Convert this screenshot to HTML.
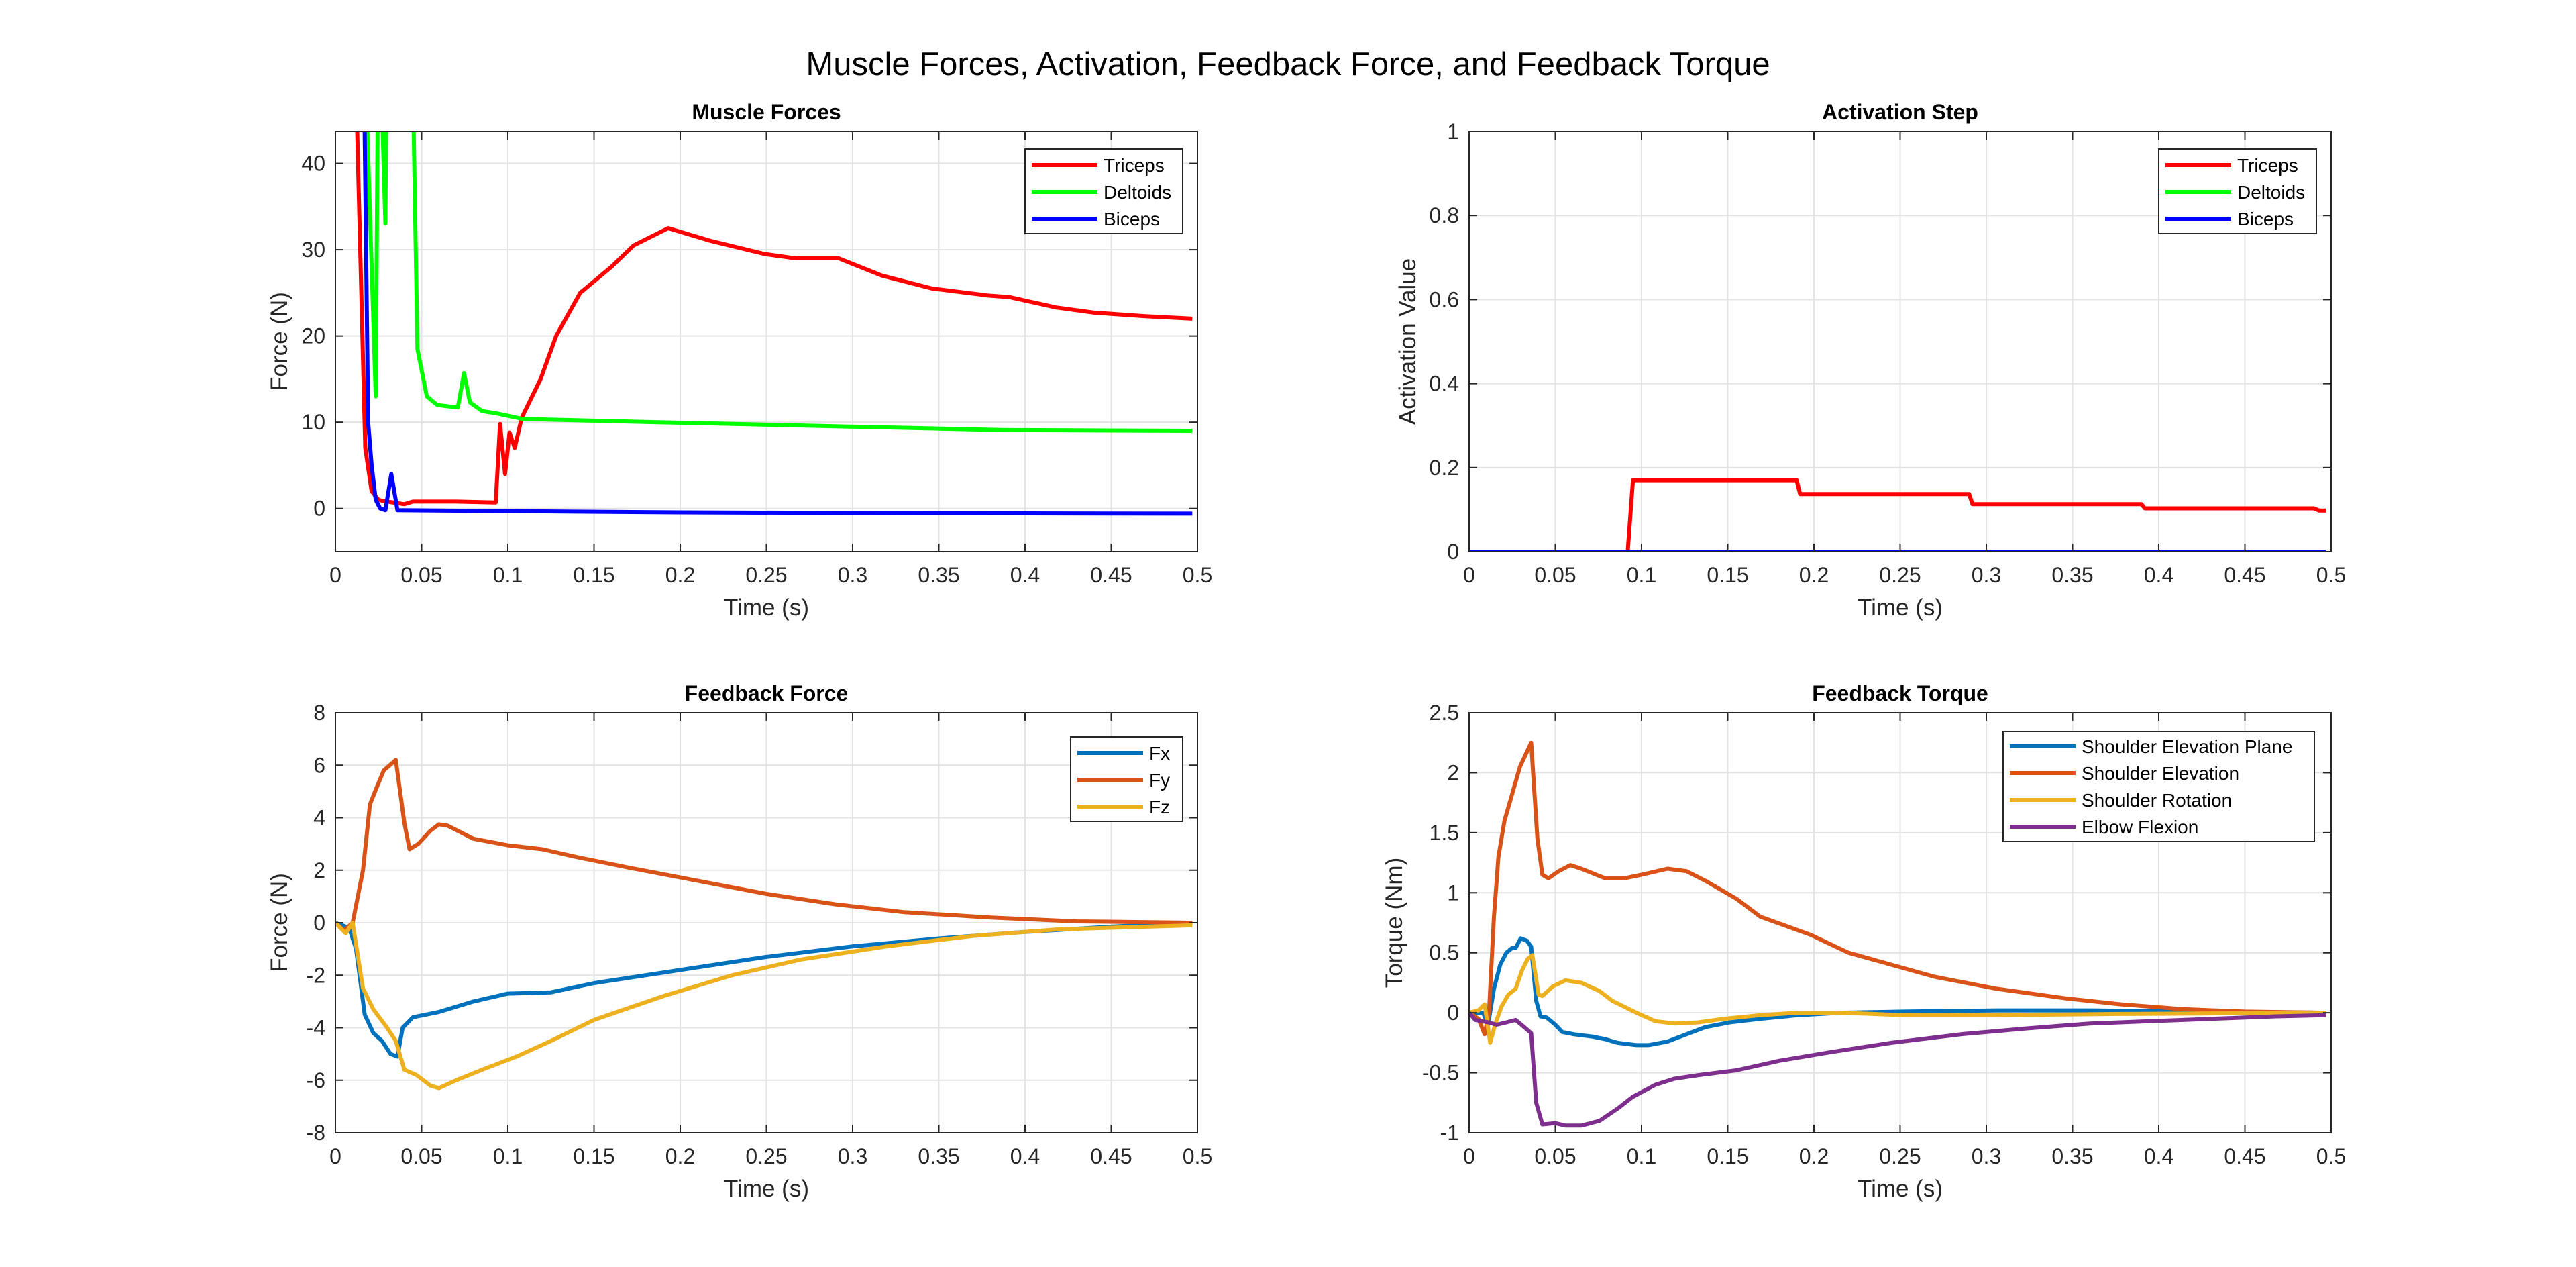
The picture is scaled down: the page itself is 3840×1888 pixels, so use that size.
<!DOCTYPE html>
<html><head><meta charset="utf-8">
<style>
html,body{margin:0;padding:0;background:#fff;}
svg{display:block;font-family:"Liberation Sans",Arial,sans-serif;}
</style></head>
<body>
<svg id="fig" width="3840" height="1888" viewBox="0 0 3840 1888" xmlns="http://www.w3.org/2000/svg">
<rect width="3840" height="1888" fill="#fff"/>
<text x="1920" y="112" font-size="49" text-anchor="middle" fill="#000">Muscle Forces, Activation, Feedback Force, and Feedback Torque</text>
</svg>
<script>
// ---- Muscle Forces data ----
const mfTricepsT = [0.0126,0.0173,0.021,0.025,0.03,0.04,0.045,0.07,0.093,0.0955,0.0984,0.101,0.104,0.108,0.119,0.128,0.142,0.16,0.173,0.193,0.218,0.249,0.267,0.292,0.317,0.346,0.378,0.391,0.418,0.44,0.469,0.497];
const mfTricepsV = [44,7,2,1,0.8,0.5,0.8,0.8,0.7,9.8,4,8.8,7,10.5,15,20,25,28,30.5,32.5,31,29.5,29,29,27,25.5,24.7,24.5,23.3,22.7,22.3,22];
const mfDeltoidsT = [0.016,0.0234,0.025,0.029,0.030,0.044,0.0476,0.053,0.059,0.071,0.0746,0.078,0.085,0.094,0.108,0.123,0.187,0.296,0.386,0.497];
const mfDeltoidsV = [60,13,60,33,60,60,18.5,13,12,11.7,15.7,12.3,11.3,11,10.4,10.3,10,9.5,9.1,9];
const mfBicepsT = [0.016,0.019,0.021,0.0234,0.026,0.029,0.0324,0.036,0.1,0.2,0.35,0.497];
const mfBicepsV = [60,10,5,1,0,-0.2,4,-0.2,-0.3,-0.45,-0.55,-0.6];
// ---- Activation data ----
const actTricepsT = [0,0.092,0.095,0.190,0.192,0.290,0.292,0.390,0.392,0.490,0.493,0.497];
const actTricepsV = [0,0,0.17,0.17,0.137,0.137,0.113,0.113,0.103,0.103,0.098,0.098];
const actDeltoidsT = [0,0.497];
const actDeltoidsV = [0,0];
const actBicepsT = [0,0.497];
const actBicepsV = [0,0];
// ---- Feedback Force data ----
const ffFxT = [0,0.008,0.012,0.017,0.022,0.027,0.032,0.036,0.039,0.045,0.06,0.08,0.1,0.125,0.15,0.2,0.25,0.3,0.35,0.4,0.45,0.497];
const ffFxV = [0,-0.2,-1,-3.5,-4.2,-4.5,-5,-5.1,-4,-3.6,-3.4,-3,-2.7,-2.65,-2.3,-1.8,-1.3,-0.9,-0.6,-0.35,-0.15,0];
const ffFyT = [0,0.005,0.01,0.016,0.02,0.023,0.028,0.035,0.04,0.043,0.048,0.055,0.06,0.065,0.08,0.1,0.12,0.14,0.17,0.21,0.25,0.29,0.33,0.38,0.43,0.497];
const ffFyV = [0,-0.3,0,2,4.5,5,5.8,6.2,3.8,2.8,3,3.5,3.75,3.7,3.2,2.95,2.8,2.5,2.1,1.6,1.1,0.7,0.4,0.2,0.05,0];
const ffFzT = [0,0.006,0.01,0.016,0.022,0.03,0.035,0.04,0.047,0.055,0.06,0.07,0.085,0.105,0.125,0.15,0.19,0.23,0.27,0.32,0.37,0.42,0.497];
const ffFzV = [0,-0.4,0,-2.5,-3.3,-4,-4.5,-5.6,-5.8,-6.2,-6.3,-6,-5.6,-5.1,-4.5,-3.7,-2.8,-2,-1.4,-0.9,-0.5,-0.25,-0.1];
// ---- Feedback Torque data ----
const ftPlaneT = [0,0.0054,0.008,0.011,0.0144,0.018,0.0216,0.025,0.027,0.0299,0.0335,0.036,0.0389,0.0414,0.045,0.05,0.054,0.061,0.072,0.079,0.086,0.097,0.104,0.115,0.126,0.137,0.151,0.169,0.191,0.216,0.252,0.306,0.36,0.432,0.497];
const ftPlaneV = [0,0,0,-0.1,0.2,0.4,0.5,0.54,0.54,0.62,0.6,0.55,0.1,-0.03,-0.04,-0.1,-0.16,-0.18,-0.2,-0.22,-0.25,-0.27,-0.27,-0.24,-0.18,-0.12,-0.08,-0.05,-0.02,0,0.01,0.02,0.02,0.01,0];
const ftElevT = [0,0.0054,0.009,0.0115,0.0144,0.017,0.0205,0.0245,0.0295,0.036,0.0396,0.0425,0.046,0.052,0.0587,0.065,0.079,0.09,0.1,0.115,0.126,0.137,0.155,0.169,0.198,0.22,0.245,0.27,0.306,0.346,0.378,0.414,0.45,0.497];
const ftElevV = [0,-0.05,-0.18,0,0.8,1.3,1.6,1.8,2.05,2.25,1.45,1.15,1.12,1.18,1.23,1.2,1.12,1.12,1.15,1.2,1.18,1.1,0.95,0.8,0.65,0.5,0.4,0.3,0.2,0.12,0.07,0.03,0.01,0];
const ftRotT = [0,0.0054,0.009,0.0122,0.015,0.0187,0.0227,0.027,0.0306,0.034,0.0367,0.0403,0.0425,0.0486,0.0558,0.065,0.0757,0.083,0.097,0.108,0.119,0.133,0.148,0.169,0.191,0.216,0.252,0.306,0.378,0.497];
const ftRotV = [0,0.02,0.07,-0.25,-0.1,0.05,0.15,0.2,0.35,0.45,0.48,0.15,0.14,0.22,0.27,0.25,0.18,0.1,0,-0.07,-0.09,-0.08,-0.05,-0.02,0,0,-0.02,-0.02,-0.01,0];
const ftElbowT = [0,0.0036,0.011,0.016,0.0216,0.027,0.032,0.036,0.0389,0.0425,0.05,0.056,0.065,0.0757,0.086,0.095,0.108,0.119,0.133,0.155,0.18,0.209,0.245,0.285,0.324,0.36,0.414,0.468,0.497];
const ftElbowV = [0,-0.06,-0.08,-0.1,-0.08,-0.06,-0.12,-0.17,-0.75,-0.93,-0.92,-0.94,-0.94,-0.9,-0.8,-0.7,-0.6,-0.55,-0.52,-0.48,-0.4,-0.33,-0.25,-0.18,-0.13,-0.09,-0.06,-0.03,-0.02];
// ---- ticks ----
const xTickVals = [0,0.05,0.1,0.15,0.2,0.25,0.3,0.35,0.4,0.45,0.5];
const xTickLabels = ["0","0.05","0.1","0.15","0.2","0.25","0.3","0.35","0.4","0.45","0.5"];
const mfYTicks = [0,10,20,30,40];
const actYTicks = [0,0.2,0.4,0.6,0.8,1];
const ffYTicks = [-8,-6,-4,-2,0,2,4,6,8];
const ftYTicks = [-1,-0.5,0,0.5,1,1.5,2,2.5];

const NS = "http://www.w3.org/2000/svg";
const fig = document.getElementById('fig');
function mk(tag, attrs, parent){const e=document.createElementNS(NS,tag);for(const k in attrs)e.setAttribute(k,attrs[k]);(parent||fig).appendChild(e);return e;}

function plot(cfg){
  const {L,R,T,B,ymin,ymax,yticks,title,ylabel,series,legend,id} = cfg;
  const g = mk('g',{});
  
  
  const sx = v => L + (v-0)/(0.5-0)*(R-L);
  const sy = v => B - (v-ymin)/(ymax-ymin)*(B-T);
  mk('rect',{x:L,y:T,width:R-L,height:B-T,fill:'#fff'},g);
  // grid
  xTickVals.forEach(v=>{ if(v>0&&v<0.5){ const l=mk('line',{x1:sx(v),x2:sx(v),y1:T,y2:B,stroke:'#e3e3e3','stroke-width':2},g);
      }});
  yticks.forEach(v=>{ const y=sy(v); if(y>T+1&&y<B-1){ const l=mk('line',{x1:L,x2:R,y1:y,y2:y,stroke:'#e3e3e3','stroke-width':2},g);
      }});
  // series
  const cid = 'clip-'+id;
  const cp = mk('clipPath',{id:cid},g); mk('rect',{x:L,y:T,width:R-L,height:B-T},cp);
  series.forEach(s=>{
    let d=''; s.t.forEach((t,i)=>{ d += (i?'L':'M')+sx(t).toFixed(1)+','+sy(s.v[i]).toFixed(1); });
    const p = mk('path',{d:d,fill:'none',stroke:s.color,'stroke-width':6,'stroke-linejoin':'round','clip-path':'url(#'+cid+')'},g);
    
    
  });
  // box
  mk('rect',{x:L,y:T,width:R-L,height:B-T,fill:'none',stroke:'#262626','stroke-width':2},g);
  // x ticks
  xTickVals.forEach((v,i)=>{
    const x=sx(v);
    mk('line',{x1:x,x2:x,y1:B,y2:B-12,stroke:'#262626','stroke-width':2},g);
    mk('line',{x1:x,x2:x,y1:T,y2:T+12,stroke:'#262626','stroke-width':2},g);
    const t=mk('text',{x:x,y:B+46,'font-size':32,'text-anchor':'middle',fill:'#262626'},g);
    t.textContent=xTickLabels[i];
    
    
  });
  yticks.forEach(v=>{
    const y=sy(v);
    mk('line',{x1:L,x2:L+12,y1:y,y2:y,stroke:'#262626','stroke-width':2},g);
    mk('line',{x1:R,x2:R-12,y1:y,y2:y,stroke:'#262626','stroke-width':2},g);
    const t=mk('text',{x:L-15,y:y+11,'font-size':32,'text-anchor':'end',fill:'#262626'},g);
    t.textContent=String(v);
    
    
  });
  const tt=mk('text',{x:(L+R)/2,y:T-18,'font-size':32,'font-weight':'bold','text-anchor':'middle',fill:'#000'},g);
  tt.textContent=title;
  
  
  const xl=mk('text',{x:(L+R)/2,y:B+95,'font-size':35,'text-anchor':'middle',fill:'#262626'},g);
  xl.textContent='Time (s)';
  
  
  const yx=cfg.ylx, yy=(T+B)/2;
  const yl=mk('text',{x:yx,y:yy,'font-size':35,'text-anchor':'middle',fill:'#262626',transform:'rotate(-90 '+yx+' '+yy+')'},g);
  yl.textContent=ylabel;
  
  
  // legend
  const lg=legend;
  const lgG=mk('g',{},g);
  
  
  mk('rect',{x:lg.x,y:lg.y,width:lg.w,height:lg.h,fill:'#fff',stroke:'#262626','stroke-width':2},lgG);
  series.forEach((s,i)=>{
    const y=lg.y+lg.first+i*lg.step;
    mk('line',{x1:lg.x+10,x2:lg.x+108,y1:y,y2:y,stroke:s.color,'stroke-width':6},lgG);
    const t=mk('text',{x:lg.x+117,y:y+10,'font-size':28,fill:'#000'},lgG);
    t.textContent=s.label;
    
    
  });
}

plot({id:'muscle-forces',L:500,R:1785,T:196,B:822,ymin:-5,ymax:43.7,yticks:mfYTicks,title:'Muscle Forces',ylabel:'Force (N)',ylx:428,
  series:[{name:'triceps-line',label:'Triceps',color:'#ff0000',t:mfTricepsT,v:mfTricepsV},
          {name:'deltoids-line',label:'Deltoids',color:'#00ff00',t:mfDeltoidsT,v:mfDeltoidsV},
          {name:'biceps-line',label:'Biceps',color:'#0000ff',t:mfBicepsT,v:mfBicepsV}],
  legend:{x:1528,y:222,w:235,h:126,first:24,step:40}});
plot({id:'activation-step',L:2190,R:3475,T:196,B:822,ymin:0,ymax:1,yticks:actYTicks,title:'Activation Step',ylabel:'Activation Value',ylx:2110,
  series:[{name:'triceps-activation-line',label:'Triceps',color:'#ff0000',t:actTricepsT,v:actTricepsV},
          {name:'deltoids-activation-line',label:'Deltoids',color:'#00ff00',t:actDeltoidsT,v:actDeltoidsV},
          {name:'biceps-activation-line',label:'Biceps',color:'#0000ff',t:actBicepsT,v:actBicepsV}],
  legend:{x:3218,y:222,w:235,h:126,first:24,step:40}});
plot({id:'feedback-force',L:500,R:1785,T:1062,B:1688,ymin:-8,ymax:8,yticks:ffYTicks,title:'Feedback Force',ylabel:'Force (N)',ylx:428,
  series:[{name:'fx-line',label:'Fx',color:'#0072bd',t:ffFxT,v:ffFxV},
          {name:'fy-line',label:'Fy',color:'#d95319',t:ffFyT,v:ffFyV},
          {name:'fz-line',label:'Fz',color:'#edb120',t:ffFzT,v:ffFzV}],
  legend:{x:1596,y:1098,w:167,h:126,first:24,step:40}});
plot({id:'feedback-torque',L:2190,R:3475,T:1062,B:1688,ymin:-1,ymax:2.5,yticks:ftYTicks,title:'Feedback Torque',ylabel:'Torque (Nm)',ylx:2090,
  series:[{name:'shoulder-elevation-plane-line',label:'Shoulder Elevation Plane',color:'#0072bd',t:ftPlaneT,v:ftPlaneV},
          {name:'shoulder-elevation-line',label:'Shoulder Elevation',color:'#d95319',t:ftElevT,v:ftElevV},
          {name:'shoulder-rotation-line',label:'Shoulder Rotation',color:'#edb120',t:ftRotT,v:ftRotV},
          {name:'elbow-flexion-line',label:'Elbow Flexion',color:'#7e2f8e',t:ftElbowT,v:ftElbowV}],
  legend:{x:2986,y:1090,w:464,h:164,first:22,step:40}});
</script>
</body></html>
